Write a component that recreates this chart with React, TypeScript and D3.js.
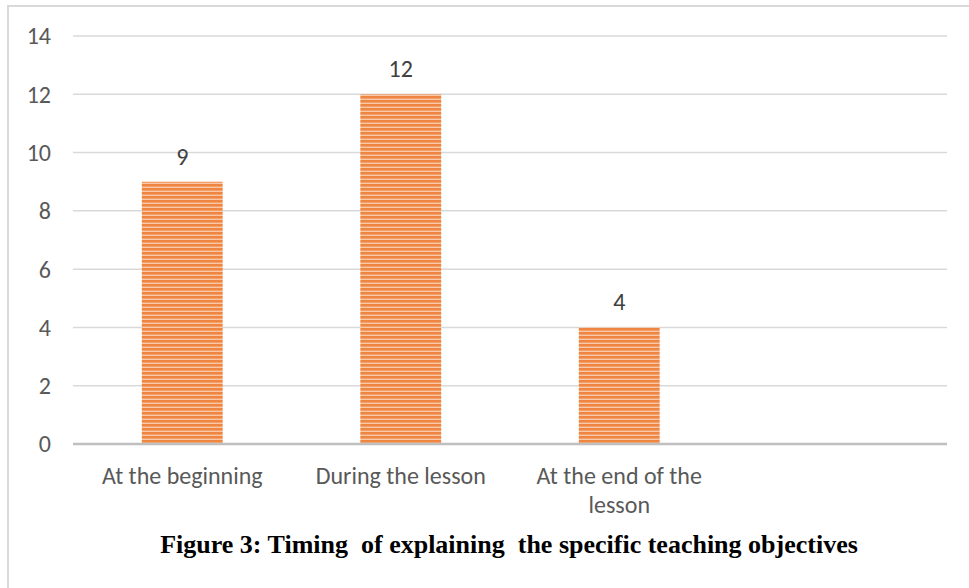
import React from "react";
import * as d3 from "d3";

const categories = ["At the beginning", "During the lesson", "At the end of the lesson", ""];
const values = [9, 12, 4, null];
const yTicks = [0, 2, 4, 6, 8, 10, 12, 14];
const title = "Figure 3: Timing  of explaining  the specific teaching objectives";

const W = 969;
const H = 588;
const plot = { left: 73, right: 947, top: 36, bottom: 444 };

function wrapLabel(s: string): string[] {
  if (s === "At the end of the lesson") return ["At the end of the", "lesson"];
  return [s];
}

export default function App() {
  const x = d3
    .scaleBand<string>()
    .domain(categories.map((c, i) => String(i)))
    .range([plot.left, plot.right])
    .paddingInner(0.63)
    .paddingOuter(0.315);
  const y = d3.scaleLinear().domain([0, 14]).range([plot.bottom, plot.top]);
  const font = "Carlito, Calibri, 'Open Sans', 'Liberation Sans', sans-serif";
  const fs = 24;

  return (
    <svg
      width={W}
      height={H}
      style={{ position: "absolute", left: 0, top: 0, background: "#fff" }}
    >
      <defs>
        <pattern id="stripes" width="8" height="4" patternUnits="userSpaceOnUse">
          <rect x="0" y="0" width="8" height="4" fill="#F7C8A8" />
          <rect x="0" y="0" width="8" height="2" fill="#EF8540" />
          <rect x="0" y="2" width="8" height="1" fill="#F3A06A" />
        </pattern>
      </defs>
      <rect x={8} y={6} width={980} height={600} fill="none" stroke="#D9D9D9" strokeWidth={2} />
      {yTicks.map((t) => (
        <g key={t}>
          {t !== 0 && (
            <line
              x1={plot.left}
              x2={plot.right}
              y1={y(t)}
              y2={y(t)}
              stroke="#D9D9D9"
              strokeWidth={1.5}
            />
          )}
          <text
            x={51}
            y={y(t)}
            dy="0.35em"
            textAnchor="end"
            fontFamily={font}
            fontSize={fs}
            fill="#595959"
          >
            {t}
          </text>
        </g>
      ))}
      {values.map((v, i) =>
        v == null ? null : (
          <g key={i}>
            <rect
              x={x(String(i))}
              y={y(v)}
              width={x.bandwidth()}
              height={y(0) - y(v)}
              fill="url(#stripes)"
            />
            <text
              x={(x(String(i)) as number) + x.bandwidth() / 2}
              y={y(v) - 17}
              textAnchor="middle"
              fontFamily={font}
              fontSize={fs}
              fill="#404040"
            >
              {v}
            </text>
          </g>
        )
      )}
      <line
        x1={plot.left}
        x2={plot.right}
        y1={y(0)}
        y2={y(0)}
        stroke="#BFBFBF"
        strokeWidth={2.5}
      />
      {categories.map((c, i) => {
        const cx = (x(String(i)) as number) + x.bandwidth() / 2;
        return (
          <text
            key={i}
            x={cx}
            y={484}
            textAnchor="middle"
            fontFamily={font}
            fontSize={fs}
            fill="#595959"
          >
            {wrapLabel(c).map((line, j) => (
              <tspan key={j} x={cx} dy={j === 0 ? 0 : 29}>
                {line}
              </tspan>
            ))}
          </text>
        );
      })}
      <text
        x={509}
        y={553}
        textAnchor="middle"
        fontFamily="'Liberation Serif', 'Times New Roman', serif"
        fontWeight="bold"
        fontSize={26}
        fill="#000"
        style={{ whiteSpace: "pre" }}
      >
        {title}
      </text>
    </svg>
  );
}
